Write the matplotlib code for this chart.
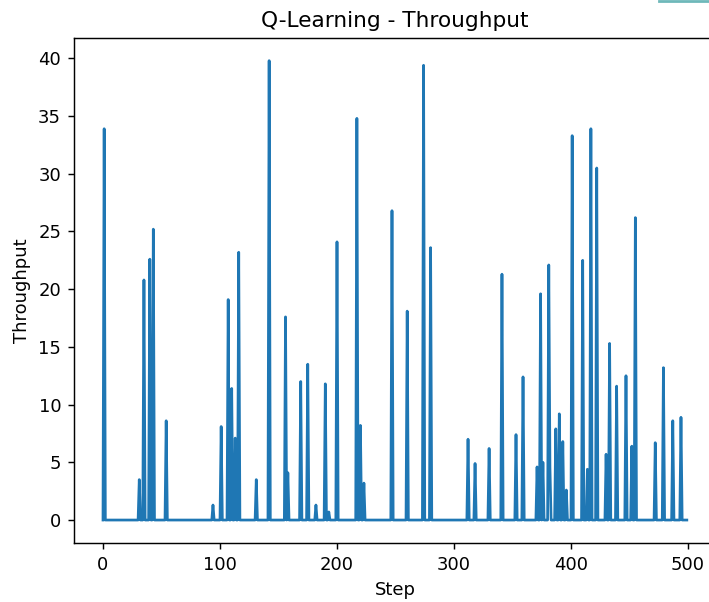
import numpy as np
import matplotlib
matplotlib.use("Agg")
import matplotlib.pyplot as plt
from matplotlib.lines import Line2D

# Throughput per step: zero everywhere except the steps listed below
n_steps = 500
spike_steps = [1, 31, 35, 40, 43, 54, 94, 101, 107, 110, 113, 116, 131, 142,
               156, 158, 169, 175, 182, 190, 193, 200, 217, 220, 223, 247,
               260, 274, 280, 312, 318, 330, 341, 353, 359, 371, 374, 376,
               381, 382, 387, 390, 393, 396, 401, 410, 414, 417, 422, 430,
               433, 439, 447, 452, 455, 472, 479, 487, 494]
spike_values = [33.9, 3.5, 20.8, 22.6, 25.2, 8.6, 1.3, 8.1, 19.1, 11.4, 7.1,
                23.2, 3.5, 39.8, 17.6, 4.1, 12.0, 13.5, 1.3, 11.8, 0.7, 24.1,
                34.8, 8.2, 3.2, 26.8, 18.1, 39.4, 23.6, 7.0, 4.9, 6.2, 21.3,
                7.4, 12.4, 4.6, 19.6, 5.0, 22.1, 4.6, 7.9, 9.2, 6.8, 2.6,
                33.3, 22.5, 4.4, 33.9, 30.5, 5.7, 15.3, 11.6, 12.5, 6.4,
                26.2, 6.7, 13.2, 8.6, 8.9]

throughput = np.zeros(n_steps)
throughput[spike_steps] = spike_values

scale = 1.3
plt.rcParams["font.family"] = ["DejaVu Sans"]

fig = plt.figure(figsize=(7.09, 6.02), dpi=100)
ax = fig.add_axes([0.1041, 0.098, 0.9058, 0.8394])
ax.plot(np.arange(n_steps), throughput, color="#1f77b4", linewidth=1.5 * scale)

ax.set_title("Q-Learning - Throughput", fontsize=12 * scale, pad=6 * scale)
ax.set_xlabel("Step", fontsize=10 * scale, labelpad=4 * scale)
ax.set_ylabel("Throughput", fontsize=10 * scale, labelpad=4 * scale)
ax.tick_params(labelsize=10 * scale, length=3.5 * scale, width=0.8 * scale,
               pad=3.5 * scale)
for sp in ax.spines.values():
    sp.set_linewidth(0.8 * scale)

# thin teal strip along the top right corner
fig.add_artist(Line2D([0.93, 1.0], [0.999, 0.999], transform=fig.transFigure,
                      color="#4aa6a8", linewidth=2, alpha=0.8))

fig.savefig("out.png", dpi=100)
